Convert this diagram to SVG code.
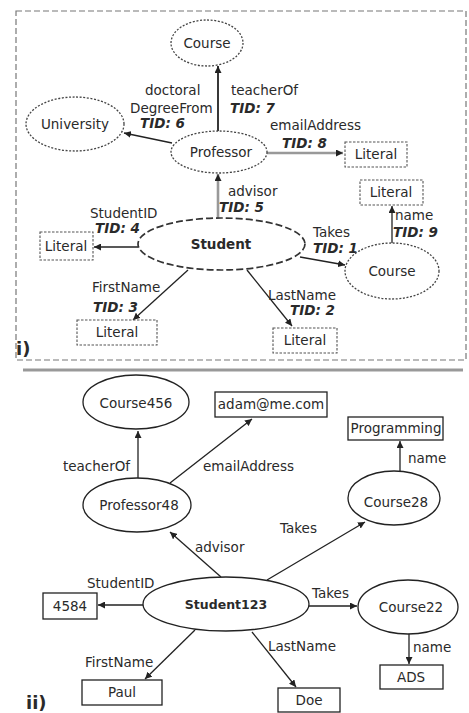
<svg xmlns="http://www.w3.org/2000/svg" width="469" height="713" viewBox="0 0 469 713">
<defs>
<marker id="a" markerUnits="userSpaceOnUse" markerWidth="8" markerHeight="7" refX="7" refY="3.5" orient="auto">
<path d="M0,0 L7,3.5 L0,7 z" fill="#222"/>
</marker>
</defs>
<style>
text{font-family:"DejaVu Sans","Liberation Sans",Arial,sans-serif;fill:#2a2a2a;font-size:13.5px}
.c{text-anchor:middle}
.b{font-weight:bold}
.t{font-weight:bold;font-style:italic}
.dn{fill:#fff;stroke:#444;stroke-width:1.3;stroke-dasharray:2 1.6}
.ds{fill:#fff;stroke:#333;stroke-width:1.7;stroke-dasharray:7 3}
.dl{fill:#fff;stroke:#555;stroke-width:1.1;stroke-dasharray:2.5 1.5}
.sn{fill:#fff;stroke:#222;stroke-width:1.3}
.e{stroke:#222;stroke-width:1.3;fill:none;marker-end:url(#a)}
.g{stroke:#999;stroke-width:2.6;fill:none;marker-end:url(#a)}
.frame{fill:none;stroke:#777;stroke-width:1.2;stroke-dasharray:6 3}
</style>

<rect class="frame" x="16" y="11" width="450" height="349"/>
<line x1="23" y1="370" x2="463" y2="370" stroke="#999" stroke-width="3"/>
<text x="16" y="355" class="b" style="font-size:18px">i)</text>
<text x="26" y="709" class="b" style="font-size:18px">ii)</text>

<g id="connectors-top">
<line class="e" x1="218" y1="131" x2="218" y2="66" style="stroke-width:1.8"/>
<line class="e" x1="172" y1="143" x2="124" y2="133"/>
<line class="g" x1="267" y1="153" x2="343" y2="153"/>
<line class="g" x1="218" y1="218" x2="218" y2="174"/>
<line class="e" x1="138" y1="247" x2="94" y2="247"/>
<line class="e" x1="300" y1="257" x2="345" y2="265"/>
<line class="e" x1="392" y1="244" x2="392" y2="206"/>
<line class="e" x1="188" y1="270" x2="133" y2="320"/>
<line class="e" x1="247" y1="270" x2="292" y2="326"/>
</g>

<g id="labels-top">
<text x="145" y="95">doctoral</text>
<text x="130" y="113">DegreeFrom</text>
<text x="140" y="128" class="t">TID: 6</text>
<text x="231" y="95">teacherOf</text>
<text x="230" y="113" class="t">TID: 7</text>
<text x="270" y="130">emailAddress</text>
<text x="282" y="148" class="t">TID: 8</text>
<text x="228" y="196">advisor</text>
<text x="219" y="212" class="t">TID: 5</text>
<text x="90" y="218">StudentID</text>
<text x="95" y="233" class="t">TID: 4</text>
<text x="313" y="237">Takes</text>
<text x="313" y="253" class="t">TID: 1</text>
<text x="395" y="220">name</text>
<text x="393" y="237" class="t">TID: 9</text>
<text x="92" y="292">FirstName</text>
<text x="93" y="312" class="t">TID: 3</text>
<text x="268" y="300">LastName</text>
<text x="290" y="315" class="t">TID: 2</text>
</g>

<g id="t-course"><ellipse class="dn" cx="207" cy="43" rx="36" ry="23"/><text x="207" y="48" class="c">Course</text></g>
<g id="t-university"><ellipse class="dn" cx="75" cy="124" rx="49" ry="27"/><text x="75" y="129" class="c">University</text></g>
<g id="t-professor"><ellipse class="dn" cx="219" cy="152" rx="48" ry="21"/><text x="221" y="157" class="c">Professor</text></g>
<g id="t-literal-email"><rect class="dl" x="345" y="142" width="62" height="25"/><text x="376" y="159" class="c">Literal</text></g>
<g id="t-literal-name"><rect class="dl" x="360" y="180" width="63" height="25"/><text x="391" y="197" class="c">Literal</text></g>
<g id="t-student"><ellipse class="ds" cx="221.5" cy="244" rx="83.5" ry="26"/><text x="221" y="249" class="c b">Student</text></g>
<g id="t-literal-id"><rect class="dl" x="40" y="232" width="53" height="28"/><text x="66" y="251" class="c">Literal</text></g>
<g id="t-course2"><ellipse class="dn" cx="392" cy="271" rx="47" ry="28"/><text x="392" y="276" class="c">Course</text></g>
<g id="t-literal-first"><rect class="dl" x="77" y="320" width="80" height="25"/><text x="117" y="337" class="c">Literal</text></g>
<g id="t-literal-last"><rect class="dl" x="273" y="328" width="64" height="25"/><text x="305" y="345" class="c">Literal</text></g>

<g id="connectors-bottom">
<line class="e" x1="138" y1="478" x2="138" y2="431"/>
<line class="e" x1="170" y1="483" x2="252" y2="419"/>
<line class="e" x1="400" y1="471" x2="400" y2="441"/>
<line class="e" x1="267" y1="580" x2="365" y2="522"/>
<line class="e" x1="221" y1="577" x2="170" y2="532"/>
<line class="e" x1="143" y1="605" x2="98" y2="605"/>
<line class="e" x1="309" y1="606" x2="357" y2="606"/>
<line class="e" x1="409" y1="634" x2="409" y2="664"/>
<line class="e" x1="195" y1="630" x2="145" y2="679"/>
<line class="e" x1="252" y1="632" x2="296" y2="687"/>
</g>

<g id="labels-bottom">
<text x="63" y="471">teacherOf</text>
<text x="203" y="471">emailAddress</text>
<text x="408" y="463">name</text>
<text x="280" y="533">Takes</text>
<text x="195" y="552">advisor</text>
<text x="87" y="588">StudentID</text>
<text x="312" y="598">Takes</text>
<text x="413" y="652">name</text>
<text x="85" y="667">FirstName</text>
<text x="268" y="651">LastName</text>
</g>

<g id="b-course456"><ellipse class="sn" cx="136" cy="402" rx="53" ry="27"/><text x="136" y="408" class="c">Course456</text></g>
<g id="b-email"><rect class="sn" x="215" y="392" width="112" height="25"/><text x="271" y="409" class="c">adam@me.com</text></g>
<g id="b-programming"><rect class="sn" x="348" y="417" width="95" height="23"/><text x="396" y="433" class="c">Programming</text></g>
<g id="b-professor48"><ellipse class="sn" cx="137" cy="505" rx="54" ry="27"/><text x="139" y="510" class="c">Professor48</text></g>
<g id="b-course28"><ellipse class="sn" cx="394" cy="498" rx="46" ry="27"/><text x="396" y="507" class="c">Course28</text></g>
<g id="b-student123"><ellipse class="sn" cx="226" cy="604" rx="83" ry="27"/><text x="226" y="609" class="c b" style="font-size:12.5px">Student123</text></g>
<g id="b-4584"><rect class="sn" x="43" y="593" width="54" height="26"/><text x="70" y="611" class="c">4584</text></g>
<g id="b-course22"><ellipse class="sn" cx="408" cy="607" rx="50" ry="27"/><text x="411" y="612" class="c">Course22</text></g>
<g id="b-ads"><rect class="sn" x="380" y="665" width="63" height="24"/><text x="411" y="682" class="c">ADS</text></g>
<g id="b-paul"><rect class="sn" x="82" y="680" width="80" height="25"/><text x="122" y="697" class="c">Paul</text></g>
<g id="b-doe"><rect class="sn" x="278" y="688" width="62" height="24"/><text x="309" y="705" class="c">Doe</text></g>
</svg>
